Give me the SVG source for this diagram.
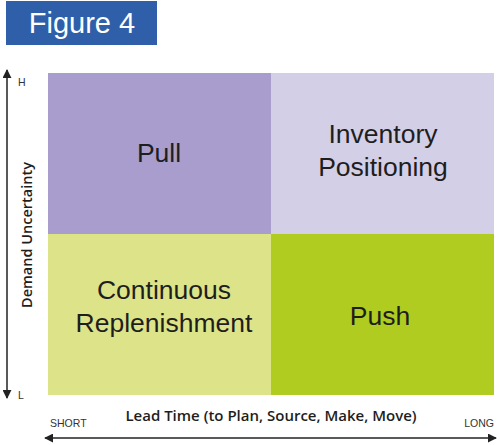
<svg xmlns="http://www.w3.org/2000/svg" width="500" height="445" viewBox="0 0 500 445">
<style>
.q{font-family:"Liberation Sans","Noto Sans",sans-serif;font-size:26.5px;fill:#1e1e1e;text-anchor:middle}
.ax{font-family:"Open Sans","Noto Sans",sans-serif;font-weight:600;font-size:15px;fill:#1e1e1e;text-anchor:middle}
.sm{font-family:"Liberation Sans",sans-serif;font-size:10.5px;fill:#333}
.ln{stroke:#222;stroke-width:1.5;fill:none}
</style>
<defs>
<marker id="ah" viewBox="0 0 10 10" refX="9" refY="5" markerWidth="9" markerHeight="9" markerUnits="userSpaceOnUse" orient="auto-start-reverse"><path d="M0,0 L10,5 L0,10 z" fill="#222"/></marker>
</defs>
<g id="title">
<rect x="6" y="1" width="151" height="44" fill="#2e5fa8"/>
<text x="82" y="33" font-family="Liberation Sans,sans-serif" font-size="29" fill="#fff" text-anchor="middle">Figure 4</text>
</g>
<g id="pull"><rect x="48" y="73" width="223" height="161" fill="#a89dcc"/><text class="q" x="159" y="162">Pull</text></g>
<g id="inventory"><rect x="271" y="73" width="223" height="161" fill="#d3cfe7"/><text class="q" x="383" y="143">Inventory</text><text class="q" x="383" y="176">Positioning</text></g>
<g id="continuous"><rect x="48" y="234" width="223" height="161" fill="#dde389"/><text class="q" x="164" y="299">Continuous</text><text class="q" x="164" y="332">Replenishment</text></g>
<g id="push"><rect x="271" y="234" width="223" height="161" fill="#b0cc20"/><text class="q" x="380" y="325">Push</text></g>
<g id="connectors">
<line class="ln" x1="7" y1="70" x2="7" y2="398" marker-start="url(#ah)" marker-end="url(#ah)"/>
<line class="ln" x1="45" y1="438" x2="496" y2="438" marker-start="url(#ah)" marker-end="url(#ah)"/>
</g>
<g id="labels">
<text class="sm" x="18" y="86">H</text>
<text class="sm" x="18" y="399">L</text>
<text class="ax" style="font-size:14.5px" transform="translate(32,235) rotate(-90)">Demand Uncertainty</text>
<text class="ax" x="271" y="421">Lead Time (to Plan, Source, Make, Move)</text>
<text class="sm" x="50" y="427">SHORT</text>
<text class="sm" x="494" y="427" text-anchor="end">LONG</text>
</g>
</svg>
